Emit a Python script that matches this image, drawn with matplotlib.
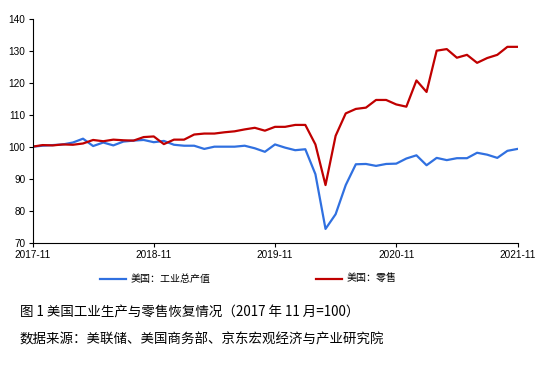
import matplotlib
matplotlib.use("Agg")
import matplotlib.pyplot as plt
import numpy as np

plt.rcParams['font.family'] = ['Liberation Sans', 'Noto Sans CJK SC', 'DejaVu Sans']

# 2017-11 .. 2021-11, monthly (2017-11 = 100)
months = np.arange(49)
tick_pos = [0, 12, 24, 36, 48]
tick_labels = ['2017-11', '2018-11', '2019-11', '2020-11', '2021-11']

industry = [100.1, 100.4, 100.6, 100.8, 101.4, 102.6, 100.3, 101.4, 100.5, 101.7,
            102.0, 102.2, 101.5, 101.9, 100.7, 100.4, 100.4, 99.4, 100.1, 100.1,
            100.1, 100.4, 99.6, 98.5, 100.8, 99.8, 99.0, 99.3, 91.5, 74.4,
            79.0, 88.1, 94.6, 94.7, 94.1, 94.7, 94.8, 96.4, 97.4, 94.3,
            96.6, 95.9, 96.5, 96.5, 98.2, 97.6, 96.6, 98.8, 99.4]
retail = [100.1, 100.6, 100.5, 100.8, 100.7, 101.1, 102.2, 101.8, 102.3, 102.1,
          102.0, 103.1, 103.3, 100.9, 102.3, 102.3, 103.9, 104.2, 104.2, 104.6,
          104.9, 105.5, 106.0, 105.1, 106.3, 106.3, 106.9, 106.9, 100.8, 88.1,
          103.5, 110.5, 111.9, 112.3, 114.7, 114.7, 113.3, 112.6, 120.8, 117.2,
          130.1, 130.6, 127.9, 128.8, 126.3, 127.8, 128.8, 131.3, 131.3]

fig = plt.figure(figsize=(5.45, 3.67), dpi=100)
ax = fig.add_axes([32.5/545, 1 - 243/367, 485/545, 224/367])

l1, = ax.plot(months, industry, color='#3070E0', lw=1.6, label='美国：工业总产值')
l2, = ax.plot(months, retail, color='#C00000', lw=1.6, label='美国：零售')

ax.set_xlim(0, 48)
ax.set_ylim(70, 140)
ax.set_yticks(range(70, 141, 10))
ax.set_xticks(tick_pos)
ax.set_xticklabels(tick_labels)
for s in ['top', 'right']:
    ax.spines[s].set_visible(False)
ax.tick_params(labelsize=7.2, length=3, width=0.8, direction='out', pad=2)

fig.legend(handles=[l1, l2], loc='center left', bbox_to_anchor=(95/545, 1 - 279/367),
           ncol=2, frameon=False, borderpad=0, columnspacing=10.5, handlelength=2.6,
           handletextpad=0.5, prop={'family': ['Noto Sans CJK SC'], 'size': 7.2})

fig.text(20/545, 1 - 313/367, '图 1 美国工业生产与零售恢复情况（2017 年 11 月=100）',
         fontsize=9.7, family=['Noto Sans CJK SC'], va='center')
fig.text(20/545, 1 - 340/367, '数据来源：美联储、美国商务部、京东宏观经济与产业研究院',
         fontsize=9.7, family=['Noto Sans CJK SC'], va='center')

fig.savefig('out.png', dpi=100)
